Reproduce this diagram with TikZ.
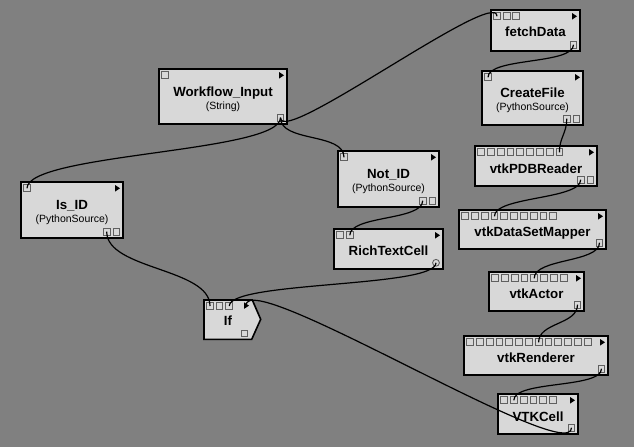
\documentclass[tikz,border=0pt]{standalone}
\usepackage{fontspec}
\setmainfont{Liberation Sans}
\definecolor{bg}{RGB}{128,128,128}
\definecolor{boxfill}{RGB}{216,216,216}
\definecolor{portline}{RGB}{96,96,96}
\tikzset{
 modbox/.style={draw=black, line width=1.6pt, fill=boxfill, inner sep=0pt, outer sep=0pt},
 port/.style={draw=portline, fill=boxfill, line width=0.9pt, minimum size=6.8pt, inner sep=0pt, outer sep=0pt},
 oport/.style={draw=portline, fill=boxfill, line width=0.9pt, circle, minimum size=6.8pt, inner sep=0pt, outer sep=0pt},
 title/.style={font=\bfseries\fontsize{13.3}{15}\selectfont, inner sep=0pt, anchor=base},
 subtitle/.style={font=\fontsize{10.5}{12}\selectfont, inner sep=0pt, anchor=base},
 conn/.style={draw=black, line width=1.2pt},
 ptri/.style={fill=black},
}
% name, left, top, right, bottom, n inputs, n outputs, pitch
\newcommand\vmod[8]{%
 \node[modbox, minimum width={#4-#2}, minimum height={#5-#3}] (#1) at ({(#2+#4)/2},{(#3+#5)/2}) {};
 \foreach \i in {1,...,#6} \node[port] (#1-i\i) at ({#2+6+(\i-1)*#8},{#3+6.3}) {};
 \ifnum#7>0
 \foreach \i in {1,...,#7} \node[port] (#1-o\i) at ({#4-6.5-(#7-\i)*#8},{#5-6.3}) {};
 \fi
 \fill[ptri] ({#4-8},{#3+3}) -- ++(5,3.3) -- ++(-5,3.3) -- cycle;
}
\begin{document}
\begin{tikzpicture}[x=1pt,y=-1pt]
\fill[bg] (0,0) rectangle (634,447);
\useasboundingbox (0,0) rectangle (634,447);

% modules
\vmod{fetch}{491}{10}{580}{51}{3}{1}{9.6}
\node[title] (fetch-t) at (535.5,36.7) {fetchData};

\vmod{cf}{482}{71}{583}{125}{1}{2}{9.8}
\node[title] (cf-t) at (532.5,97.5) {CreateFile};
\node[subtitle] (cf-s) at (532.5,110.3) {(PythonSource)};

\vmod{wf}{159}{69}{287}{124}{1}{1}{9.8}
\node[title] (wf-t) at (223,96.3) {Workflow\_Input};
\node[subtitle] (wf-s) at (223,109.3) {(String)};

\vmod{isid}{21}{182}{123}{238}{1}{2}{9.8}
\node[title] (isid-t) at (72,209.8) {Is\_ID};
\node[subtitle] (isid-s) at (72,222.8) {(PythonSource)};

\vmod{notid}{338}{151}{439}{207}{1}{2}{9.8}
\node[title] (notid-t) at (388.5,178.8) {Not\_ID};
\node[subtitle] (notid-s) at (388.5,191.8) {(PythonSource)};

\vmod{rtc}{334}{229}{443}{269}{2}{0}{9.8}
\node[oport] (rtc-o1) at (436,262.8) {};
\node[title] (rtc-t) at (388.5,255.7) {RichTextCell};

\vmod{pdb}{475}{146}{597}{186}{9}{2}{9.8}
\node[title] (pdb-t) at (536,173.2) {vtkPDBReader};

\vmod{dsm}{459}{210}{606}{249}{10}{1}{9.8}
\node[title] (dsm-t) at (532.5,236.7) {vtkDataSetMapper};

\vmod{actor}{489}{272}{584}{311}{8}{1}{9.8}
\node[title] (actor-t) at (536.5,298.5) {vtkActor};

\vmod{rend}{464}{336}{608}{375}{13}{1}{9.8}
\node[title] (rend-t) at (536,362) {vtkRenderer};

\vmod{cell}{498}{394}{578}{434}{6}{1}{9.8}
\node[title] (cell-t) at (538,421.5) {VTKCell};

% If module
\draw[modbox] (204,300) -- (252.3,300) -- (260.7,319.3) -- (251.7,339.3) -- (204,339.3) -- cycle;
\coordinate (If) at (228,320);
\node[port] (If-i1) at (210,306) {};
\node[port] (If-i2) at (219.5,306) {};
\node[port] (If-i3) at (229.3,306) {};
\node[port] (If-o1) at (244.5,333.5) {};
\fill[ptri] (244,302.3) -- ++(5,3.3) -- ++(-5,3.3) -- cycle;
\coordinate (If-self) at (246,305.5);
\node[title] (If-t) at (228,325.7) {If};

% connections
\draw[conn] (wf-o1.center) .. controls +(0,30) and +(0,-30) .. (fetch-i1.center);
\draw[conn] (wf-o1.center) .. controls +(0,35) and +(0,-35) .. (isid-i1.center);
\draw[conn] (wf-o1.center) .. controls +(0,25) and +(0,-25) .. (notid-i1.center);
\draw[conn] (isid-o1.center) .. controls +(0,38) and +(0,-38) .. (If-i1.center);
\draw[conn] (notid-o1.center) .. controls +(0,20) and +(0,-20) .. (rtc-i2.center);
\draw[conn] (rtc-o1.center) .. controls +(0,25) and +(0,-25) .. (If-i3.center);
\draw[conn] (fetch-o1.center) .. controls +(0,20) and +(0,-20) .. (cf-i1.center);
\draw[conn] (cf-o1.center) .. controls +(0,15) and +(0,-15) .. (pdb-i9.center);
\draw[conn] (pdb-o1.center) .. controls +(0,20) and +(0,-20) .. (dsm-i4.center);
\draw[conn] (dsm-o1.center) .. controls +(0,20) and +(0,-20) .. (actor-i5.center);
\draw[conn] (actor-o1.center) .. controls +(0,20) and +(0,-20) .. (rend-i8.center);
\draw[conn] (rend-o1.center) .. controls +(0,20) and +(0,-20) .. (cell-i2.center);
\draw[conn] (cell-o1.center) .. controls +(0,40) and +(0,-40) .. (If-self);
\end{tikzpicture}
\end{document}
